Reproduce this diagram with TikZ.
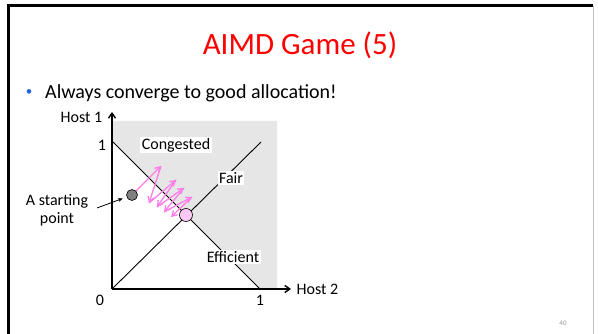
\documentclass[tikz,border=0pt]{standalone}
\usepackage{fontspec}
\setmainfont{Carlito}
\usetikzlibrary{arrows.meta}
\definecolor{titlered}{RGB}{255,0,0}
\definecolor{bulletblue}{RGB}{30,100,220}
\definecolor{regiongray}{RGB}{230,230,230}
\definecolor{zigpink}{RGB}{255,125,230}
\definecolor{dotpink}{RGB}{255,200,245}
\definecolor{dotgray}{RGB}{128,128,128}
\definecolor{pagegray}{RGB}{150,150,150}
\tikzset{
  lbl/.style={font=\fontsize{16}{18}\selectfont, inner sep=1.5pt},
  boxlbl/.style={lbl, fill=white},
  axis/.style={line width=1.4pt, -{Straight Barb[length=5pt,width=7pt]}},
  diag/.style={line width=0.9pt},
  zig/.style={zigpink, line width=1.3pt, -{Straight Barb[length=5pt,width=6pt]}},
}
\begin{document}
\begin{tikzpicture}[x=1pt,y=-1pt]
\useasboundingbox (0,0) rectangle (598,334);
% slide frame
\draw[pagegray!60, line width=1pt] (593.5,6) -- (593.5,334);
\draw[black, line width=3pt] (8.5,334) -- (8.5,6) -- (593,6);
% title and bullet
\node[titlered, font=\fontsize{31}{36}\selectfont, anchor=base] (title) at (300,55) {AIMD Game (5)};
\node[bulletblue, font=\fontsize{13}{16}\selectfont, anchor=base] (bul) at (29,96) {•};
\node[font=\fontsize{20}{24}\selectfont, anchor=base west, inner sep=0pt] (btext) at (45,99) {Always converge to good allocation!};
% gray region
\fill[regiongray] (112,121) -- (277,121) -- (277,289) -- (260,289) -- (112,141) -- cycle;
% coordinates
\coordinate (O) at (112,289);
\coordinate (Y1) at (112,141);
\coordinate (X1) at (260,289);
\coordinate (F1) at (261,142);
\coordinate (Ytip) at (112,112);
\coordinate (Xtip) at (291,289);
% lines
\draw[diag] (Y1) -- (X1);
\draw[diag] (O) -- (F1);
\draw[axis] (O) -- (Ytip);
\draw[axis] (O) -- (Xtip);
% axis labels
\node[lbl, anchor=east] (h1) at (104,117) {Host 1};
\node[lbl, anchor=west] (h2) at (295,289) {Host 2};
\node[lbl] (one1) at (102,145) {1};
\node[lbl] (zero) at (100,300) {0};
\node[lbl] (one2) at (260,300) {1};
% region labels
\node[boxlbl] (cong) at (176,145) {Congested};
\node[boxlbl] (fair) at (231,178) {Fair};
\node[boxlbl] (eff) at (233,257) {Efficient};
% starting point
\node[lbl, align=center] (st) at (57,210) {A starting\\point};
\coordinate (stA) at (97,208);
% zigzag
\coordinate (P0) at (132,195);
\coordinate (U1) at (161,166);
\coordinate (D1) at (149,203);
\coordinate (U2) at (176,180);
\coordinate (D2) at (157,207);
\coordinate (U3) at (184,188);
\coordinate (D3) at (164,212);
\coordinate (U4) at (192,197);
\coordinate (D4) at (171,217);
\draw[zig] (P0) -- (U1);
\draw[zig] (U1) -- (D1);
\draw[zig] (D1) -- (U2);
\draw[zig] (U2) -- (D2);
\draw[zig] (D2) -- (U3);
\draw[zig] (U3) -- (D3);
\draw[zig] (D3) -- (U4);
\draw[zig] (U4) -- (D4);
% dots
\node[circle, draw=black, fill=dotgray, line width=0.6pt, minimum size=11pt, inner sep=0pt] (start) at (P0) {};
\node[circle, draw=black, fill=dotpink, line width=0.6pt, minimum size=13pt, inner sep=0pt] (goal) at (186,215) {};
\draw[line width=0.8pt, -{Stealth[length=5pt,width=4pt]}, shorten >=4pt] (stA) -- (start);
% page number
\node[pagegray, font=\fontsize{7}{8}\selectfont] (pg) at (563,323) {40};
\end{tikzpicture}
\end{document}
